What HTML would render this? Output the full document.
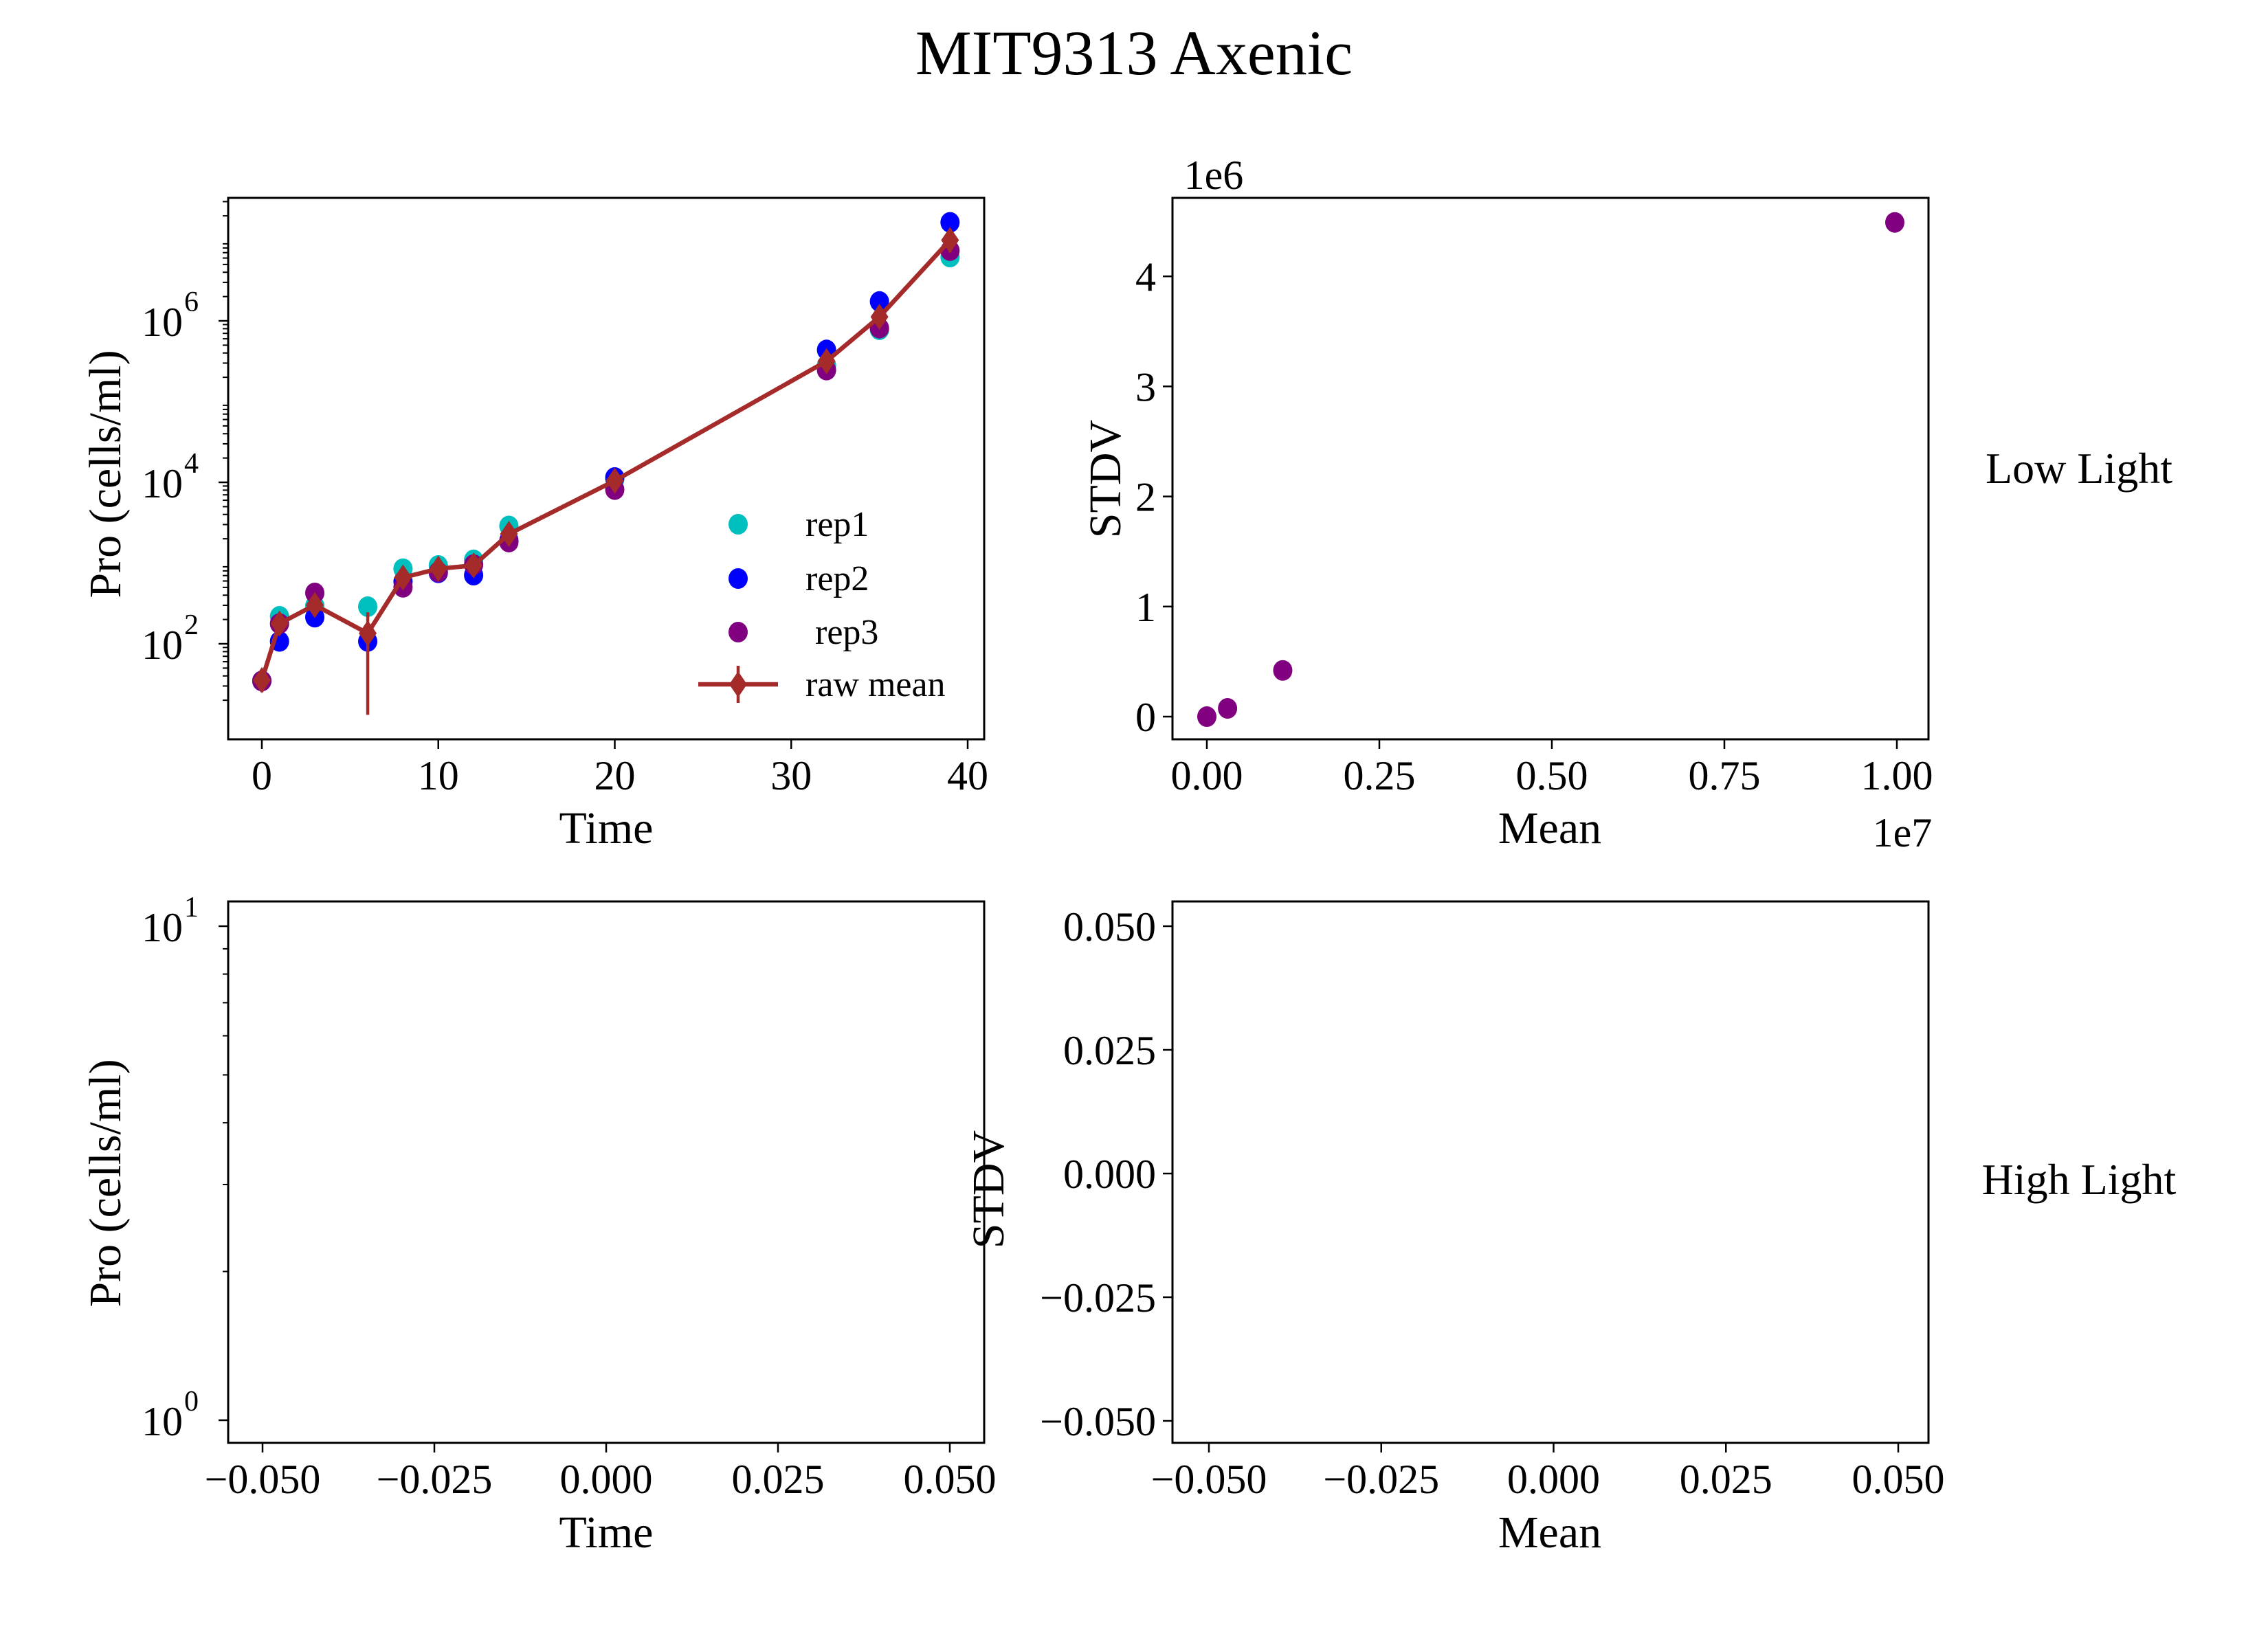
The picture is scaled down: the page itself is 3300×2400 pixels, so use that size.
<!DOCTYPE html>
<html><head><meta charset="utf-8"><style>
html,body{margin:0;padding:0;background:#fff;}
svg{display:block;font-family:"Liberation Serif","DejaVu Serif",serif;}
</style></head><body>
<svg id="fig" width="3300" height="2400" viewBox="0 0 3300 2400" xmlns="http://www.w3.org/2000/svg">
<rect width="3300" height="2400" fill="#fff"/>
<text x="1650" y="108" font-size="92" text-anchor="middle">MIT9313 Axenic</text>
<text x="3025" y="703" font-size="64" text-anchor="middle">Low Light</text>
<text x="3025" y="1738" font-size="64" text-anchor="middle">High Light</text>
</svg>
<script>
// ---- data ----
const times = [0,1,3,6,8,10,12,14,20,32,35,39];
const rep1Log = [1.54,2.34,2.47,2.46,2.93,2.97,3.04,3.46,4.04,5.45,5.89,6.79];
const rep2Log = [1.54,2.03,2.33,2.03,2.77,2.88,2.85,3.28,4.06,5.64,6.24,7.22];
const rep3Log = [1.54,2.25,2.63,null,2.70,2.89,2.98,3.26,3.91,5.39,5.91,6.87];
const meanLog = [1.55,2.25,2.48,2.13,2.82,2.93,2.97,3.36,4.02,5.50,6.05,7.00];
const errUpLog = [1.65,2.32,2.58,2.39,2.90,3.00,3.02,3.42,4.08,5.60,6.15,7.14];
const errLoLog = [1.40,2.15,2.36,1.12,2.70,2.86,2.92,3.28,3.95,5.40,5.92,6.85];
const tlXTicks = [0,10,20,30,40];
const tlYTicks = [2,4,6];
const stdMeans = [0.0,0.03,0.11,0.997];
const stdVals = [0.0,0.075,0.42,4.49];
const trXTicks = [0.00,0.25,0.50,0.75,1.00];
const trXTickLabels = ["0.00","0.25","0.50","0.75","1.00"];
const trYTicks = [0,1,2,3,4];
const emptyTicks = [-0.05,-0.025,0,0.025,0.05];
const emptyTickLabels = ["\u22120.050","\u22120.025","0.000","0.025","0.050"];

const NS="http://www.w3.org/2000/svg";
const fig=document.getElementById('fig');
const TF=60;
function mk(tag,attrs,parent){const e=document.createElementNS(NS,tag);for(const k in attrs)e.setAttribute(k,attrs[k]);(parent||fig).appendChild(e);return e;}
function txt(s,x,y,size,anchor,parent){const t=mk('text',{x:x,y:y,'font-size':size,'text-anchor':anchor||'middle'},parent);t.textContent=s;return t;}

const TL={l:332,r:1432,t:288,b:1076};
const TR={l:1706,r:2806,t:288,b:1076};
const BL={l:332,r:1432,t:1312,b:2100};
const BR={l:1706,r:2806,t:1312,b:2100};
const tlx=v=>381+(v-0)*(1408-381)/40;
const tly=l=>937-(l-2)*117.5;
const trx=v=>1756+v*(2760-1756);
const tryy=v=>1043-v*160.2;
const blx=v=>382+(v+0.05)*(1382-382)/0.1;
const bly=l=>2067-l*(2067-1348);
const brx=v=>1759+(v+0.05)*(2762-1759)/0.1;
const bry=v=>1708-v*(1708-1348)/0.05;

function frame(a,name){
  const r=mk('rect',{x:a.l,y:a.t,width:a.r-a.l,height:a.b-a.t,fill:'none',stroke:'#000','stroke-width':3});
  
  
}
function xtick(a,x,label,name){
  const g=mk('g',{});
  
  
  mk('line',{x1:x,y1:a.b,x2:x,y2:a.b+14,stroke:'#000','stroke-width':2.5},g);
  txt(label,x,a.b+73,TF,'middle',g);
}
function ytick(a,y,label,name,len){
  const g=mk('g',{});
  
  
  mk('line',{x1:a.l-(len||14),y1:y,x2:a.l,y2:y,stroke:'#000','stroke-width':2.5},g);
  if(label!==null){txt(label,a.l-24,y+21,TF,'end',g);}
  return g;
}
function ylogtick(a,y,exp,name){
  const g=ytick(a,y,null,name);
  const t=mk('text',{x:a.l-66,y:y+22,'font-size':TF,'text-anchor':'end'},g);t.textContent='10';
  const s=mk('text',{x:a.l-64,y:y-14,'font-size':42,'text-anchor':'start'},g);s.textContent=exp;
}
function label(s,x,y,rot,name){
  const t=mk('text',{x:x,y:y,'font-size':66,'text-anchor':'middle'});
  if(rot)t.setAttribute('transform','rotate(-90 '+x+' '+y+')');
  t.textContent=s;
  
  
}

// ---- top-left growth plot ----
const clipTL=mk('clipPath',{id:'ctl'});mk('rect',{x:TL.l,y:TL.t,width:TL.r-TL.l,height:TL.b-TL.t},clipTL);
const gTL=mk('g',{'clip-path':'url(#ctl)'});


const reps=[[rep1Log,'#00bfbf','rep1'],[rep2Log,'#0000ff','rep2'],[rep3Log,'#800080','rep3']];
reps.forEach(([arr,col,nm])=>{
  arr.forEach((v,i)=>{ if(v===null)return;
    const c=mk('ellipse',{cx:tlx(times[i]),cy:tly(v),rx:14,ry:15,fill:col},gTL);
    
    
  });
});
times.forEach((t,i)=>{
  const e=mk('line',{x1:tlx(t),y1:tly(errUpLog[i]),x2:tlx(t),y2:tly(errLoLog[i]),stroke:'#a52a2a','stroke-width':4.5},gTL);
  
  
});
const pl=mk('polyline',{points:times.map((t,i)=>tlx(t)+','+tly(meanLog[i])).join(' '),fill:'none',stroke:'#a52a2a','stroke-width':6.5},gTL);


function diamond(x,y,parent){return mk('polygon',{points:`${x},${y-19} ${x+13},${y} ${x},${y+19} ${x-13},${y}`,fill:'#a52a2a'},parent);}
times.forEach((t,i)=>{
  const d=diamond(tlx(t),tly(meanLog[i]),gTL);
  
  
});
frame(TL,'growth-plot-frame');
tlXTicks.forEach(v=>xtick(TL,tlx(v),String(v),'x-tick'));
tlYTicks.forEach(v=>ylogtick(TL,tly(v),String(v),'y-tick'));
for(let d=1;d<=7;d++){for(let m=2;m<=9;m++){const l=d+Math.log10(m);const y=tly(l);if(y>TL.t&&y<TL.b){mk('line',{x1:TL.l-8,y1:y,x2:TL.l,y2:y,stroke:'#000','stroke-width':2});}}}
label('Time',882,1227,false,'x-axis-title');
label('Pro (cells/ml)',175,690,true,'y-axis-title');
// legend
const lg=mk('g',{});


const legY=[763,842,920,996];
[['#00bfbf','rep1',1172],['#0000ff','rep2',1172],['#800080','rep3',1186]].forEach(([c,n,tx],i)=>{
  const e=mk('ellipse',{cx:1074,cy:legY[i],rx:14,ry:15,fill:c},lg);
  
  
  txt(n,tx,legY[i]+17,52,'start',lg);
});
mk('line',{x1:1016,y1:legY[3],x2:1132,y2:legY[3],stroke:'#a52a2a','stroke-width':6.5},lg);
mk('line',{x1:1074,y1:legY[3]-27,x2:1074,y2:legY[3]+27,stroke:'#a52a2a','stroke-width':4.5},lg);
diamond(1074,legY[3],lg);
txt('raw mean',1172,legY[3]+17,52,'start',lg);

// ---- top-right stdv plot ----
stdMeans.forEach((m,i)=>{
  const c=mk('ellipse',{cx:trx(m),cy:tryy(stdVals[i]),rx:14,ry:15,fill:'#800080'});
  
  
});
frame(TR,'stdv-plot-frame');
trXTicks.forEach((v,i)=>xtick(TR,trx(v),trXTickLabels[i],'x-tick'));
trYTicks.forEach(v=>ytick(TR,tryy(v),String(v),'y-tick'));
txt('1e6',1766,275,TF,'middle');
txt('1e7',2768,1232,TF,'middle');
label('Mean',2255,1227,false,'x-axis-title');
label('STDV',1630,697,true,'y-axis-title');

// ---- bottom-left empty log plot ----
frame(BL,'high-light-growth-frame');
emptyTicks.forEach((v,i)=>xtick(BL,blx(v),emptyTickLabels[i],'x-tick'));
ylogtick(BL,bly(0),'0','y-tick');
ylogtick(BL,bly(1),'1','y-tick');
for(let m=2;m<=9;m++){const y=bly(Math.log10(m));mk('line',{x1:BL.l-8,y1:y,x2:BL.l,y2:y,stroke:'#000','stroke-width':2});}
label('Time',882,2252,false,'x-axis-title');
label('Pro (cells/ml)',175,1722,true,'y-axis-title');

// ---- bottom-right empty plot ----
frame(BR,'high-light-stdv-frame');
emptyTicks.forEach((v,i)=>xtick(BR,brx(v),emptyTickLabels[i],'x-tick'));
emptyTicks.forEach((v,i)=>ytick(BR,bry(v),emptyTickLabels[i],'y-tick'));
label('Mean',2255,2252,false,'x-axis-title');
label('STDV',1460,1731,true,'y-axis-title');
</script>
</body></html>
